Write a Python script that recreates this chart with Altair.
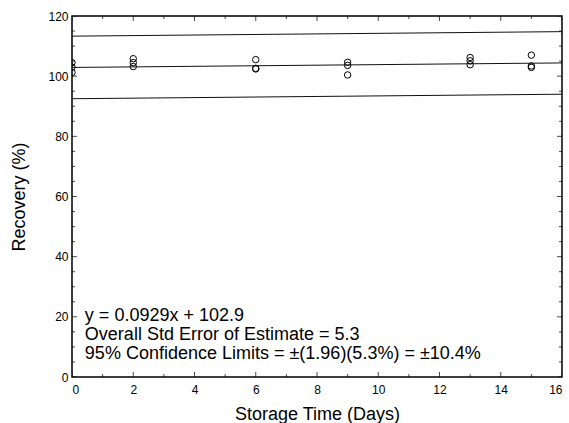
import altair as alt
import pandas as pd

# ---- data ----
days = [0, 0, 0, 2, 2, 2, 6, 6, 6, 9, 9, 9, 13, 13, 13, 15, 15, 15]
recovery = [104.5, 103.0, 101.2, 105.8, 104.5, 103.2, 105.5, 102.6, 102.4,
            104.6, 103.6, 100.4, 106.2, 105.1, 103.8, 107.0, 103.4, 102.9]

line_x = [0, 16]
fit_y = [102.9, 104.4]
upper_y = [113.3, 114.8]
lower_y = [92.5, 94.0]

annot_lines = [
    "y = 0.0929x + 102.9",
    "Overall Std Error of Estimate = 5.3",
    "95% Confidence Limits = \u00b1(1.96)(5.3%) = \u00b110.4%",
]
annot_x = [0.42]
annot_y = [18.6]

x_major = [0, 2, 4, 6, 8, 10, 12, 14, 16]
x_minor = [1, 3, 5, 7, 9, 11, 13, 15]
y_major = [0, 20, 40, 60, 80, 100, 120]
y_minor = [v for v in range(0, 121, 5) if v % 20 != 0]

W, H = 490, 361
FONT = "Liberation Sans"

pts = pd.DataFrame({"x": days, "y": recovery})
lines = pd.DataFrame({"x": line_x * 3,
                      "y": fit_y + upper_y + lower_y,
                      "k": ["fit"] * 2 + ["upper"] * 2 + ["lower"] * 2})
annot = pd.DataFrame({"x": annot_x, "y": annot_y, "t": ["\n".join(annot_lines)]})
xt = pd.DataFrame({"x": x_major + x_minor,
                   "major": [True] * len(x_major) + [False] * len(x_minor)})
yt = pd.DataFrame({"y": y_major + y_minor,
                   "major": [True] * len(y_major) + [False] * len(y_minor)})

xs = alt.Scale(domain=[0, 16], nice=False, zero=False)
ys = alt.Scale(domain=[0, 120], nice=False, zero=False)

X = alt.X("x:Q", scale=xs,
          axis=alt.Axis(orient="bottom", values=x_major, ticks=False, domain=False,
                        grid=False, title="Storage Time (Days)", labelPadding=7,
                        labelFontSize=12, titleFontSize=18, titlePadding=10,
                        labelFont=FONT, titleFont=FONT, labelColor="black",
                        titleColor="black", titleFontWeight="normal"))
Y = alt.Y("y:Q", scale=ys,
          axis=alt.Axis(orient="left", values=y_major, ticks=False, domain=False,
                        grid=False, title="Recovery (%)", labelPadding=4,
                        labelFontSize=12, titleFontSize=18, titlePadding=19,
                        labelFont=FONT, titleFont=FONT, labelColor="black",
                        titleColor="black", titleFontWeight="normal"))

points = alt.Chart(pts).mark_point(shape="circle", filled=False, size=42,
                                   color="black", strokeWidth=1, clip=True,
                                   opacity=1).encode(x=X, y=Y)

band_lines = alt.Chart(lines).mark_line(color="#111111", strokeWidth=1).encode(
    x=X, y=Y, detail="k:N")

text = alt.Chart(annot).mark_text(align="left", baseline="alphabetic", font=FONT,
                                  fontSize=18, lineBreak="\n", lineHeight=19,
                                  color="black").encode(x=X, y=Y, text="t:N")

# inward ticks on all four sides (clipped so only the inner half shows)
size_enc = alt.Size("major:N", scale=alt.Scale(domain=[True, False], range=[10, 6]),
                    legend=None)
xticks_b = alt.Chart(xt).mark_tick(orient="vertical", color="black", thickness=1,
                                   clip=True).encode(x=X, y=alt.value(H), size=size_enc)
xticks_t = alt.Chart(xt).mark_tick(orient="vertical", color="black", thickness=1,
                                   clip=True).encode(x=X, y=alt.value(0), size=size_enc)
yticks_l = alt.Chart(yt).mark_tick(orient="horizontal", color="black", thickness=1,
                                   clip=True).encode(y=Y, x=alt.value(0), size=size_enc)
yticks_r = alt.Chart(yt).mark_tick(orient="horizontal", color="black", thickness=1,
                                   clip=True).encode(y=Y, x=alt.value(W), size=size_enc)

chart = alt.layer(points, band_lines, text, xticks_b, xticks_t, yticks_l,
                  yticks_r).properties(
    width=W, height=H,
    autosize=alt.AutoSizeParams(type="none"),
    padding={"left": 72, "top": 16, "right": 7, "bottom": 46},
    background="white",
).configure_view(stroke="black", strokeWidth=1.5)

chart.save("out.html", embed_options={"renderer": "svg", "actions": False})
